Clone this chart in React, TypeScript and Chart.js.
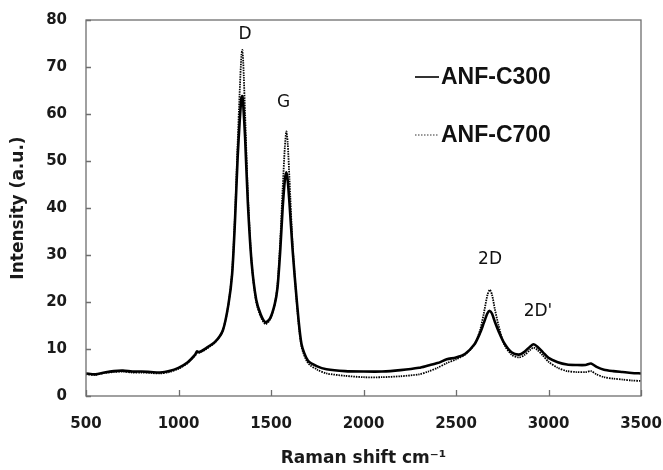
import React, { useEffect, useRef } from "react";
import { Chart, registerables } from "chart.js";

Chart.register(...registerables);

const wavenumbers = [
  500, 550, 600, 650, 700, 750, 800, 850, 900, 950, 1000, 1050, 1090, 1100, 1110, 1150, 1200, 1240, 1270, 1290,
  1305, 1320, 1330, 1340, 1345, 1350, 1360, 1375, 1395, 1420, 1445, 1470, 1495, 1520, 1535, 1550, 1563, 1575,
  1583, 1590, 1600, 1617, 1640, 1665, 1700, 1750, 1800, 1900, 2000, 2100, 2200, 2300, 2350, 2400, 2450, 2500,
  2550, 2600, 2630, 2650, 2670, 2683, 2695, 2710, 2730, 2760, 2800, 2840, 2870, 2900, 2920, 2940, 2970, 3000,
  3050, 3100, 3150, 3200, 3230, 3260, 3300, 3350, 3400, 3450, 3500,
];

const anfC300 = [
  4.8, 4.6, 5.0, 5.3, 5.4, 5.2, 5.2, 5.1, 5.0, 5.3, 6.0, 7.2, 8.8, 9.5, 9.3, 10.2, 11.6, 14, 19.5, 26,
  37, 51, 58, 63.5, 63.8, 62, 55, 41, 28.5, 20.5, 17.3, 15.7, 16.5, 19.5, 23, 31, 40, 46,
  47.6, 46, 41, 31, 20, 11, 7.5, 6.3, 5.7, 5.3, 5.2, 5.2, 5.5, 6.0, 6.5, 7.0, 7.8, 8.2,
  9.0, 11, 13.4, 15.5, 17.6, 18.1, 17.5, 15.8, 13.8, 11.3, 9.3, 8.8, 9.4, 10.5, 11.0, 10.5, 9.3, 8.1,
  7.2, 6.7, 6.6, 6.6, 6.9, 6.2, 5.6, 5.3, 5.1, 4.9, 4.8,
];

const anfC700 = [
  4.6, 4.5, 4.9, 5.1, 5.2, 5.0, 5.0, 4.9, 4.8, 5.1, 5.8, 7.0, 8.6, 9.2, 9.2, 10.0, 11.5, 14, 19.5, 26.5,
  38, 54, 64, 72.5, 73.6, 71, 60, 43, 28.5, 20, 16.8, 15.3, 16.3, 19.5, 23.5, 33, 44, 53,
  56.3, 54, 46, 32, 19.5, 10.5, 7, 5.6, 4.8, 4.3, 4.0, 4.0, 4.2, 4.6, 5.2, 6.0, 7.0, 7.8,
  8.8, 11, 14, 17.5, 21.5, 22.6, 21.5, 18.5, 15, 11, 8.8, 8.2, 8.7, 9.8, 10.3, 9.8, 8.6, 7.3,
  6.0, 5.3, 5.1, 5.1, 5.3, 4.6, 4.0, 3.7, 3.5, 3.3, 3.2,
];

const seriesNames = ["ANF-C300", "ANF-C700"];
const xTickValues = [500, 1000, 1500, 2000, 2500, 3000, 3500];
const yTickValues = [0, 10, 20, 30, 40, 50, 60, 70, 80];

const peakLabels = ["D", "G", "2D", "2D'"];
const peakLabelX = [1360, 1568, 2684, 2943];
const peakLabelY = [77, 62.5, 29, 17.9];

const overlayPlugin = {
  id: "overlay",
  afterDraw(chart: any) {
    const { ctx, chartArea } = chart;
    const { left, top, right, bottom } = chartArea;
    const xs = chart.scales.x;
    const ys = chart.scales.y;
    ctx.save();
    ctx.strokeStyle = "#6e6e6e";
    ctx.lineWidth = 1.3;
    ctx.strokeRect(left, top, right - left, bottom - top);
    ctx.beginPath();
    xTickValues.forEach((v) => {
      const px = Math.round(xs.getPixelForValue(v)) + 0.5;
      ctx.moveTo(px, bottom);
      ctx.lineTo(px, bottom - 6);
    });
    yTickValues.forEach((v) => {
      const py = Math.round(ys.getPixelForValue(v)) + 0.5;
      ctx.moveTo(left, py);
      ctx.lineTo(left + 5, py);
    });
    ctx.stroke();

    // peak annotations
    ctx.fillStyle = "#111";
    ctx.font = "17px 'DejaVu Sans'";
    ctx.textAlign = "center";
    ctx.textBaseline = "middle";
    peakLabels.forEach((t, i) => {
      ctx.fillText(t, xs.getPixelForValue(peakLabelX[i]), ys.getPixelForValue(peakLabelY[i]));
    });

    // legend
    const lx = right - 226;
    const ly = [top + 57, top + 115];
    ctx.font = "bold 23px 'Liberation Sans'";
    ctx.textAlign = "left";
    ctx.textBaseline = "middle";
    seriesNames.forEach((name, i) => {
      ctx.beginPath();
      ctx.strokeStyle = i === 0 ? "#000" : "#333";
      ctx.lineWidth = i === 0 ? 1.6 : 1.2;
      ctx.setLineDash(i === 0 ? [] : [1.5, 1.5]);
      ctx.moveTo(lx, ly[i]);
      ctx.lineTo(lx + 24, ly[i]);
      ctx.stroke();
      ctx.setLineDash([]);
      ctx.fillText(name, lx + 26, ly[i] + 1);
    });
    ctx.restore();
  },
};

export default function App() {
  const ref = useRef<HTMLCanvasElement | null>(null);
  useEffect(() => {
    if (!ref.current) return;
    const chart = new Chart(ref.current, {
      type: "line",
      data: {
        datasets: [
          {
            label: seriesNames[0],
            data: wavenumbers.map((x, i) => ({ x, y: anfC300[i] })),
            borderColor: "#000",
            borderWidth: 2.6,
            pointRadius: 0,
            tension: 0.25,
            fill: false,
          },
          {
            label: seriesNames[1],
            data: wavenumbers.map((x, i) => ({ x, y: anfC700[i] })),
            borderColor: "#000",
            borderWidth: 1.8,
            borderDash: [1.5, 1],
            pointRadius: 0,
            tension: 0.25,
            fill: false,
          },
        ],
      },
      options: {
        animation: false,
        responsive: false,
        layout: { padding: { left: 0, right: 22, top: 20, bottom: 0 } },
        plugins: { legend: { display: false }, tooltip: { enabled: false } },
        scales: {
          x: {
            type: "linear",
            min: 500,
            max: 3500,
            afterFit: (s: any) => {
              s.height = 74;
              s.paddingLeft = 0;
              s.paddingRight = 0;
            },
            afterBuildTicks: (s: any) => {
              s.ticks = xTickValues.map((v) => ({ value: v }));
            },
            grid: { display: false, drawTicks: false },
            border: { display: false },
            ticks: {
              padding: 19,
              maxRotation: 0,
              autoSkip: false,
              color: "#1a1a1a",
              font: { family: "'DejaVu Sans'", size: 15, weight: "bold" },
              callback: (v: any) => String(v),
            },
            title: {
              display: true,
              text: "Raman shift cm\u207B\u00B9",
              color: "#1a1a1a",
              font: { family: "'DejaVu Sans'", size: 17, weight: "bold" },
              padding: { top: 0, bottom: 1 },
            },
          },
          y: {
            type: "linear",
            min: 0,
            max: 80,
            afterFit: (s: any) => {
              s.width = 86;
              s.paddingTop = 0;
              s.paddingBottom = 0;
            },
            afterBuildTicks: (s: any) => {
              s.ticks = yTickValues.map((v) => ({ value: v }));
            },
            grid: { display: false, drawTicks: false },
            border: { display: false },
            ticks: {
              padding: 19,
              color: "#1a1a1a",
              font: { family: "'DejaVu Sans'", size: 15, weight: "bold" },
              callback: (v: any) => String(v),
            },
            title: {
              display: true,
              text: "Intensity (a.u.)",
              color: "#1a1a1a",
              font: { family: "'DejaVu Sans'", size: 17, weight: "bold" },
              padding: { top: 8, bottom: 8 },
            },
          },
        },
      },
      plugins: [overlayPlugin],
    });
    return () => chart.destroy();
  }, []);
  return (
    <div style={{ position: "absolute", left: 0, top: 0, width: 663, height: 470, background: "#fff" }}>
      <canvas ref={ref} width={663} height={470} style={{ width: 663, height: 470, display: "block" }} />
    </div>
  );
}
